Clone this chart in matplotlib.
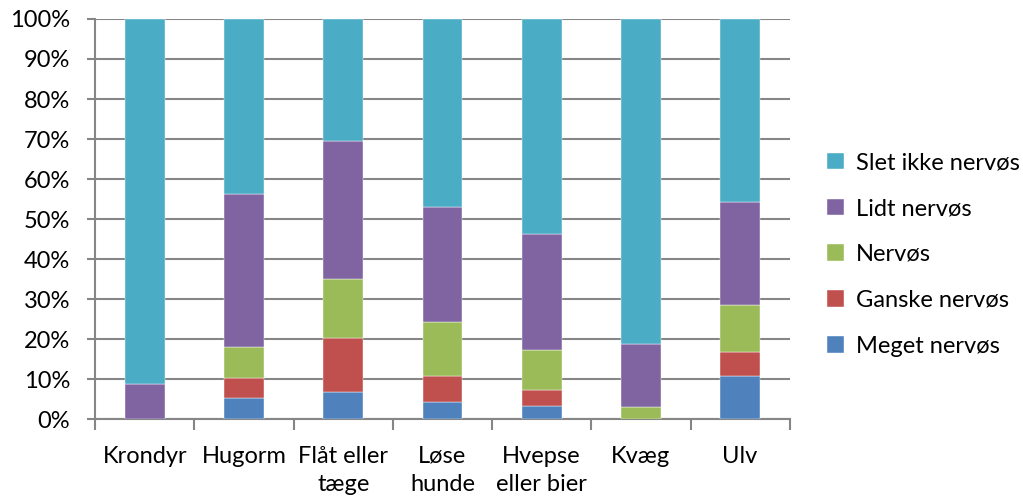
import numpy as np
import matplotlib
matplotlib.use("Agg")
import matplotlib.pyplot as plt
from matplotlib.ticker import FuncFormatter, FixedLocator

plt.rcParams['font.family'] = ['Lato', 'DejaVu Sans']

# ---------------- data (percent) ----------------
categories = ["Krondyr", "Hugorm", "Flåt eller\ntæge", "Løse\nhunde",
              "Hvepse\neller bier", "Kvæg", "Ulv"]
meget = [0.0, 5.2, 6.9, 4.4, 3.4, 0.0, 10.9]
ganske = [0.0, 5.1, 13.3, 6.3, 3.8, 0.0, 6.0]
nervos = [0.0, 7.7, 14.8, 13.5, 10.0, 3.1, 11.6]
lidt = [8.8, 38.2, 34.4, 28.7, 29.1, 15.8, 25.7]
slet = [91.2, 43.8, 30.6, 47.1, 53.7, 81.1, 45.8]

series_names = ["Meget nervøs", "Ganske nervøs", "Nervøs", "Lidt nervøs", "Slet ikke nervøs"]
series_vals = [meget, ganske, nervos, lidt, slet]
colors = ["#4F81BD", "#C0504D", "#9BBB59", "#8064A2", "#4BACC6"]

fs = 17

fig = plt.figure(figsize=(10.23, 4.99), dpi=100)
ax = fig.add_axes([0.093, 0.160, 0.679, 0.802])

x = np.arange(len(categories))
bottom = np.zeros(len(categories))
handles = []
for name, vals, col in zip(series_names, series_vals, colors):
    vals = np.array(vals)
    b = ax.bar(x, vals, 0.4, bottom=bottom, color=col, label=name,
               edgecolor="white", linewidth=0.3, zorder=3)
    handles.append(b)
    bottom += vals

ax.set_xlim(-0.5, len(categories) - 0.5)
ax.set_ylim(0, 100)
ax.set_yticks(np.arange(0, 101, 10))
ax.yaxis.set_major_formatter(FuncFormatter(lambda v, p: f"{int(v)}%"))
ax.yaxis.grid(True, color="#868686", linewidth=1.5, zorder=0)

# category labels at centers, tick marks at boundaries
ax.set_xticks(x)
ax.set_xticklabels(categories, fontsize=fs, linespacing=1.45)
ax.tick_params(axis="x", length=0, pad=19)
ax.xaxis.set_minor_locator(FixedLocator(np.arange(-0.5, len(categories), 1)))
ax.tick_params(axis="x", which="minor", length=8, width=1.5, color="#868686")
ax.tick_params(axis="y", length=6, width=1.5, color="#868686", labelsize=fs,
               direction="out", pad=12)

for s in ["top", "right"]:
    ax.spines[s].set_visible(False)
for s in ["left", "bottom"]:
    ax.spines[s].set_color("#868686")
    ax.spines[s].set_linewidth(1.5)

leg = fig.legend(handles[::-1], series_names[::-1], loc="center left",
                 bbox_to_anchor=(0.788, 0.49), frameon=False, fontsize=fs,
                 handlelength=0.7, handleheight=0.7, labelspacing=1.05,
                 handletextpad=0.5)

fig.savefig("out.png", dpi=100)
